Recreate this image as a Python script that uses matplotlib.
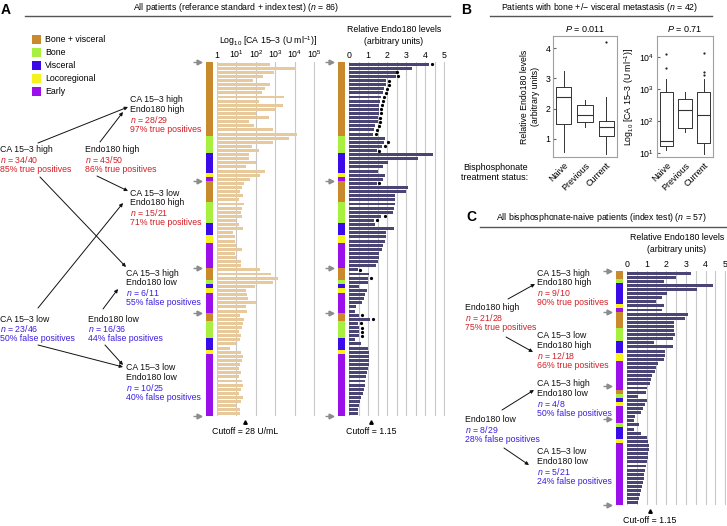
import numpy as np
import matplotlib
matplotlib.use("Agg")
import matplotlib.pyplot as plt
from matplotlib.patches import Rectangle
from matplotlib.transforms import blended_transform_factory, offset_copy

W, H = 727, 526

plt.rcParams['font.family'] = ['Liberation Sans', 'DejaVu Sans']
plt.rcParams['font.size'] = 6
plt.rcParams['mathtext.fontset'] = 'custom'
plt.rcParams['mathtext.rm'] = 'Liberation Sans'
plt.rcParams['mathtext.it'] = 'Liberation Sans:italic'
plt.rcParams['mathtext.bf'] = 'Liberation Sans:bold'

# --- dati -------------------------------------------------------------
sites = ["Bone + visceral", "Bone", "Visceral", "Locoregional", "Early"]
site_colors = ["#c98a2e", "#a8f03f", "#3b0ae8", "#f4f41c", "#9b10ea"]
RED = "#d42027"
BLUE = "#3b1fe0"
CA_COLOR = "#e8c99b"
ENDO_COLOR = "#4b4575"
GRID = "#c8c8c8"

# pannello A (n = 86): gruppi CA high/Endo high, CA low/Endo high, CA high/Endo low, CA low/Endo low
a_groups = [29, 21, 11, 25]
a_sites = [0, 0, 0, 0, 0, 0, 0, 0, 0, 0, 0, 0, 0, 0, 0, 0, 0, 0, 1, 1, 1, 1, 2, 2, 2, 2, 2, 3, 4,
           0, 0, 0, 0, 0, 1, 1, 1, 1, 1, 2, 2, 2, 3, 3, 4, 4, 4, 4, 4, 4,
           0, 0, 0, 1, 2, 3, 4, 4, 4, 4, 4,
           0, 0, 1, 1, 1, 1, 2, 2, 2, 3, 4, 4, 4, 4, 4, 4, 4, 4, 4, 4, 4, 4, 4, 4, 4]
a_ca153 = [537, 11750, 871, 224, 69, 501, 295, 200, 2818, 151, 2399, 977, 100, 490, 46,
           79, 794, 12590, 4786, 741, 62, 151, 46, 46, 100, 32, 295, 158, 50,
           25, 20, 16, 22, 14, 25, 20, 18, 19, 9, 13, 22, 7, 8, 8, 9, 20, 8, 9, 18, 18,
           158, 589, 1349, 741, 93, 32, 35, 40, 100, 32, 35,
           16, 25, 22, 20, 13, 18, 16, 10, 4.5, 18, 22, 20, 16, 13, 18, 14, 20, 22, 18,
           13, 22, 18, 10, 16, 16]
a_endo = [4.2, 3.3, 2.5, 2.45, 1.95, 1.92, 1.85, 1.8, 1.7, 1.65, 1.6, 1.58, 1.55, 1.52, 1.5,
          1.35, 1.3, 1.25, 1.87, 1.82, 1.75, 1.47, 4.42, 3.6, 2.07, 1.77, 1.51, 1.9, 1.8,
          1.45, 3.1, 3.0, 2.4, 2.42, 2.4, 2.38, 2.3, 1.7, 1.3, 1.35, 2.35, 1.95, 1.95, 1.9,
          1.8, 1.75, 1.6, 1.55, 1.5, 1.4,
          0.47, 1.07, 0.98, 0.98, 0.55, 0.95, 0.86, 0.8, 0.7, 0.38, 0.3,
          0.52, 1.1, 0.47, 0.55, 0.52, 0.52, 0.3, 0.64, 0.98, 1.03, 1.07, 1.07, 1.03, 0.98,
          0.93, 0.9, 0.86, 0.83, 0.81, 0.72, 0.64, 0.59, 0.55, 0.47, 0.47]
nan = np.nan
a_endo_dots = [4.35, nan, 2.5, 2.55, 2.1, 2.08, 2.0, 1.95, 1.85, 1.8, 1.75, 1.7, 1.68, 1.65,
               1.62, 1.55, 1.48, 1.4, nan, 2.05, 1.9, 1.6, nan, nan, nan, nan, nan, nan, nan,
               1.6, nan, nan, nan, nan, nan, nan, nan, 1.88, 1.45, nan, nan, nan, nan, nan,
               nan, nan, nan, nan, nan, nan,
               0.6, nan, 1.15, nan, nan, nan, nan, nan, nan, nan, nan,
               0.69, 1.28, 0.64, 0.69, 0.69, 0.66, nan, nan, nan, nan, nan, nan, nan, nan,
               nan, nan, nan, nan, nan, nan, nan, nan, nan, nan, nan]
ca_cutoff = 28
endo_cutoff = 1.15

# pannello B (n = 42): statistiche dei box plot
b_status = ["Naive", "Previous", "Current"]
b_endo_lo = [0.55, 1.4, 0.5]
b_endo_q1 = [1.48, 1.55, 1.08]
b_endo_med = [2.37, 1.8, 1.4]
b_endo_q3 = [2.72, 2.12, 1.6]
b_endo_hi = [3.25, 2.3, 2.37]
b_endo_out = [[], [], [4.2]]
b_ca_lo = [12, 45, 9]
b_ca_q1 = [17, 60, 20]
b_ca_med = [23, 220, 150]
b_ca_q3 = [800, 500, 780]
b_ca_hi = [2000, 800, 2000]
b_ca_out = [[4500, 12000], [], [2800, 3300, 13500]]

# pannello C (n = 57)
c_groups = [10, 18, 8, 21]
c_sites = [0, 0, 1, 2, 2, 2, 2, 2, 3, 4,
           0, 0, 0, 0, 1, 1, 1, 2, 2, 2, 3, 3, 4, 4, 4, 4, 4, 4,
           4, 0, 1, 2, 3, 4, 4, 4,
           4, 1, 2, 2, 2, 3, 4, 4, 4, 4, 4, 4, 4, 4, 4, 4, 4, 4, 4, 4, 4]
c_endo = [3.25, 2.5, 1.88, 4.36, 3.55, 2.05, 1.76, 1.5, 1.88, 1.76,
          3.08, 2.96, 2.41, 2.41, 2.41, 2.44, 2.32, 1.37, 2.32, 1.93, 1.93, 1.88, 1.59,
          1.5, 1.42, 1.28, 1.2, 1.18,
          1.0, 0.95, 0.55, 1.0, 0.9, 0.8, 0.7, 0.4,
          0.35, 0.6, 0.35, 0.7, 1.0, 1.05, 1.1, 1.1, 1.08, 1.05, 1.0, 0.95, 0.9, 0.88, 0.85,
          0.8, 0.75, 0.7, 0.65, 0.6, 0.55]

assert len(a_sites) == len(a_ca153) == len(a_endo) == len(a_endo_dots) == sum(a_groups)
assert len(c_sites) == len(c_endo) == sum(c_groups)


def px_axes(fig, x0, y0, x1, y1):
    """Axes posizionati in pixel (origine in alto a sinistra)."""
    return fig.add_axes([x0 / W, 1 - y1 / H, (x1 - x0) / W, (y1 - y0) / H])


def site_strip(fig, box, site_codes, groups, tri_dx):
    ax = px_axes(fig, *box)
    n = len(site_codes)
    ax.barh(np.arange(n) + 0.5, 1, height=1.0, left=0,
            color=[site_colors[s] for s in site_codes], lw=0)
    ax.set_xlim(0, 1)
    ax.set_ylim(n, 0)
    ax.axis('off')
    bounds = np.concatenate([[0], np.cumsum(groups)])
    trans = offset_copy(blended_transform_factory(ax.transAxes, ax.transData),
                        fig=fig, x=-tri_dx, units='dots')
    ax.plot(np.zeros(len(bounds)), bounds, ls='none', marker='>', ms=3.5,
            color='#8c8c8c', transform=trans, clip_on=False)
    ax.plot(np.zeros(len(bounds)) - 0, bounds, ls='none', marker='_', ms=4,
            color='#8c8c8c', transform=offset_copy(trans, fig=fig, x=-3, units='dots'),
            clip_on=False)
    return ax


def bar_axes(fig, box, values, color):
    ax = px_axes(fig, *box)
    n = len(values)
    ax.set_ylim(n, 0)
    for s in ax.spines.values():
        s.set_visible(False)
    ax.xaxis.set_ticks_position('top')
    ax.tick_params(axis='x', length=0, pad=1.5, labelsize=6.3)
    ax.tick_params(axis='y', left=False, labelleft=False)
    ax.set_axisbelow(True)
    return ax


def cutoff_mark(fig, ax, cut, label):
    trans = offset_copy(blended_transform_factory(ax.transData, ax.transAxes),
                        fig=fig, y=-6, units='dots')
    ax.plot([cut], [0], marker='^', ms=2.5, color='k', transform=trans, clip_on=False)
    ax.annotate(label, xy=(cut, 0), xycoords=('data', 'axes fraction'),
                xytext=(0, -11.5), textcoords='offset points', ha='center', va='center',
                fontsize=6.3)


def endo_panel(fig, box, values, dots=None):
    ax = bar_axes(fig, box, values, ENDO_COLOR)
    n = len(values)
    ax.barh(np.arange(n) + 0.5, values, height=0.72, left=0, color=ENDO_COLOR, lw=0)
    if dots is not None:
        ax.plot(dots, np.arange(n) + 0.5, ls='none', marker='o', ms=1.3, color='k')
    ax.set_xlim(0, 5.04)
    ax.set_xticks(range(6))
    ax.set_xticks(np.arange(0.5, 5.0, 1.0), minor=True)
    ax.tick_params(axis='x', which='minor', length=0)
    ax.grid(axis='x', which='both', color=GRID, lw=0.8)
    cutoff_mark(fig, ax, endo_cutoff,
                "Cutoff = 1.15" if dots is not None else "Cut-off = 1.15")
    return ax


def text_block(ov, x, y, lines, colors, step=9.9):
    for i, (t, c) in enumerate(zip(lines, colors)):
        ov.text(x, y + i * step, t, color=c, ha='left', va='center', fontsize=6.3)


def arrow(ov, start, end):
    ov.annotate("", xy=end, xytext=start,
                arrowprops=dict(arrowstyle='-|>', color='#111111', lw=0.7,
                                mutation_scale=5, shrinkA=0, shrinkB=0))


fig = plt.figure(figsize=(W / 100, H / 100), dpi=100)

# livello di sfondo in pixel per testi, frecce e linee dei titoli
ov = fig.add_axes([0, 0, 1, 1])
ov.set_xlim(0, W)
ov.set_ylim(H, 0)
ov.axis('off')

K = '#111111'
ov.text(1, 10, "A", fontsize=10, fontweight='bold', va='center')
ov.text(461, 10, "B", fontsize=10, fontweight='bold', va='center')
ov.text(466, 217, "C", fontsize=10, fontweight='bold', va='center')
ov.text(236, 7, "All patients (referance standard + index test) ($n$ = 86)",
        ha='center', va='center', fontsize=6.3)
ov.plot([25, 450], [16, 16], color='#555555', lw=1)
ov.text(600, 7, "Patients with bone +/\u2212 visceral metastasis ($n$ = 42)",
        ha='center', va='center', fontsize=6.3)
ov.plot([490, 712], [16, 16], color='#555555', lw=1)
ov.text(601, 218, "All bisphosphonate-naive patients (index test) ($n$ = 57)",
        ha='center', va='center', fontsize=6.3)
ov.plot([480, 727], [227, 227], color='#555555', lw=1)

# legenda
for i, (name, col) in enumerate(zip(sites, site_colors)):
    yc = 39 + i * 13.1
    ov.add_patch(Rectangle((32, yc - 4.5), 9, 9, color=col, lw=0))
    ov.text(45, yc, name, va='center', fontsize=6.3)

# testi pannello A
text_block(ov, 130, 100, ["CA 15\u20133 high", "Endo180 high", "$n$ = 28/29", "97% true positives"], [K, K, RED, RED])
text_block(ov, 0, 150, ["CA 15\u20133 high", "$n$ = 34/40", "85% true positives"], [K, RED, RED])
text_block(ov, 85, 150, ["Endo180 high", "$n$ = 43/50", "86% true positives"], [K, RED, RED])
text_block(ov, 130, 193, ["CA 15\u20133 low", "Endo180 high", "$n$ = 15/21", "71% true positives"], [K, K, RED, RED])
text_block(ov, 126, 273, ["CA 15\u20133 high", "Endo180 low", "$n$ = 6/11", "55% false positives"], [K, K, BLUE, BLUE])
text_block(ov, 0, 319, ["CA 15\u20133 low", "$n$ = 23/46", "50% false positives"], [K, BLUE, BLUE])
text_block(ov, 88, 319, ["Endo180 low", "$n$ = 16/36", "44% false positives"], [K, BLUE, BLUE])
text_block(ov, 126, 368, ["CA 15\u20133 low", "Endo180 low", "$n$ = 10/25", "40% false positives"], [K, K, BLUE, BLUE])
for s, e in [((38, 143), (128, 107)), ((100, 142), (123, 112)), ((40, 177), (126, 267)),
             ((97, 176), (128, 191)), ((38, 308), (123, 203)), ((103, 309), (118, 289)),
             ((38, 345), (123, 367)), ((105, 345), (123, 365))]:
    arrow(ov, s, e)

# testi pannello C
text_block(ov, 537, 273, ["CA 15\u20133 high", "Endo180 high", "$n$ = 9/10", "90% true positives"], [K, K, RED, RED])
text_block(ov, 465, 308, ["Endo180 high", "$n$ = 21/28", "75% true positives"], [K, RED, RED])
text_block(ov, 537, 336, ["CA 15\u20133 low", "Endo180 high", "$n$ = 12/18", "66% true positives"], [K, K, RED, RED])
text_block(ov, 537, 384, ["CA 15\u20133 high", "Endo180 low", "$n$ = 4/8", "50% false positives"], [K, K, BLUE, BLUE])
text_block(ov, 465, 420, ["Endo180 low", "$n$ = 8/29", "28% false positives"], [K, BLUE, BLUE])
text_block(ov, 537, 452, ["CA 15\u20133 low", "Endo180 low", "$n$ = 5/21", "24% false positives"], [K, K, BLUE, BLUE])
for s, e in [((508, 299), (535, 284)), ((506, 337), (533, 352)),
             ((502, 410), (534, 390)), ((504, 448), (529, 465))]:
    arrow(ov, s, e)

# titoli degli assi a barre
ov.text(268, 41, "Log$_{10}$ [CA 15\u20133 (U ml$^{-1}$)]", ha='center', va='center', fontsize=6.3)
ov.text(394, 29, "Relative Endo180 levels", ha='center', va='center', fontsize=6.3)
ov.text(394, 41, "(arbitrary units)", ha='center', va='center', fontsize=6.3)
ov.text(677, 238, "Relative Endo180 levels", ha='center', va='center', fontsize=6.3)
ov.text(677, 250, "(arbitrary units)", ha='center', va='center', fontsize=6.3)

# pannello A: CA 15-3 (scala log)
site_strip(fig, (206, 62, 213, 416), a_sites, a_groups, 7)
ax_ca = bar_axes(fig, (217, 62, 315, 416), a_ca153, CA_COLOR)
n = len(a_ca153)
vals = np.array(a_ca153, dtype=float)
ax_ca.barh(np.arange(n) + 0.5, vals - 1, left=1, height=0.72, color=CA_COLOR, lw=0)
ax_ca.set_xscale('log')
ax_ca.set_xlim(1, 10 ** 5.03)
ax_ca.set_xticks([1, 10, 100, 1e3, 1e4, 1e5])
ax_ca.set_xticklabels(["1", "10$^{1}$", "10$^{2}$", "10$^{3}$", "10$^{4}$", "10$^{5}$"])
ax_ca.minorticks_off()
ax_ca.grid(axis='x', color=GRID, lw=0.8)
cutoff_mark(fig, ax_ca, ca_cutoff, "Cutoff = 28 U/mL")

# pannello A: Endo180
site_strip(fig, (338, 62, 345, 416), a_sites, a_groups, 7)
endo_panel(fig, (349, 62, 445, 416), a_endo, dots=a_endo_dots)

# pannello C: Endo180
site_strip(fig, (616, 271, 623, 505), c_sites, c_groups, 7)
endo_panel(fig, (627, 271, 726, 505), c_endo)

# pannello B: box plot
def box_stats(lo, q1, med, q3, hi, out):
    return [dict(whislo=a, q1=b, med=c, q3=d, whishi=e, fliers=f)
            for a, b, c, d, e, f in zip(lo, q1, med, q3, hi, out)]


def box_axes(fig, box, stats, ptext):
    ax = px_axes(fig, *box)
    ax.bxp(stats, widths=0.72, showcaps=False,
           boxprops=dict(color='#333333', lw=0.7),
           whiskerprops=dict(color='#333333', lw=0.7),
           medianprops=dict(color='#333333', lw=0.8),
           flierprops=dict(marker='o', ms=1.6, mfc='#222222', mec='none'))
    for s in ax.spines.values():
        s.set_color('#a0a0a0')
        s.set_linewidth(0.8)
    ax.set_xlim(0.5, 3.5)
    ax.set_xticks([1, 2, 3])
    ax.set_xticklabels(b_status, rotation=45, ha='right', rotation_mode='anchor', fontsize=6.5)
    ax.tick_params(axis='x', length=0, pad=3)
    ax.tick_params(axis='y', direction='in', length=2, labelsize=6.3, pad=2, color='#666666')
    ax.text(0.5, 1.02, ptext, transform=ax.transAxes, ha='center', va='bottom', fontsize=6.5)
    return ax


ax_b1 = box_axes(fig, (553, 36, 617, 157),
                 box_stats(b_endo_lo, b_endo_q1, b_endo_med, b_endo_q3, b_endo_hi, b_endo_out),
                 "$P$ = 0.011")
ax_b1.set_ylim(0.4, 4.4)
ax_b1.set_yticks([1, 2, 3, 4])
ax_b1.set_ylabel("Relative Endo180 levels\n(arbitrary units)", fontsize=6.3, labelpad=4)

ax_b2 = box_axes(fig, (657, 36, 713, 157),
                 box_stats(b_ca_lo, b_ca_q1, b_ca_med, b_ca_q3, b_ca_hi, b_ca_out),
                 "$P$ = 0.71")
ax_b2.set_yscale('log')
ax_b2.set_ylim(7.5, 45000)
ax_b2.set_yticks([10, 100, 1e3, 1e4])
ax_b2.set_yticklabels(["10$^{1}$", "10$^{2}$", "10$^{3}$", "10$^{4}$"])
ax_b2.minorticks_off()
ax_b2.set_ylabel("Log$_{10}$ [CA 15\u20133 (U ml$^{-1}$)]", fontsize=6.3, labelpad=2)

ov.text(528, 167, "Bisphosphonate", ha='right', va='center', fontsize=6.5)
ov.text(528, 178, "treatment status:", ha='right', va='center', fontsize=6.5)

fig.savefig("out.png", dpi=100)
plt.close(fig)
